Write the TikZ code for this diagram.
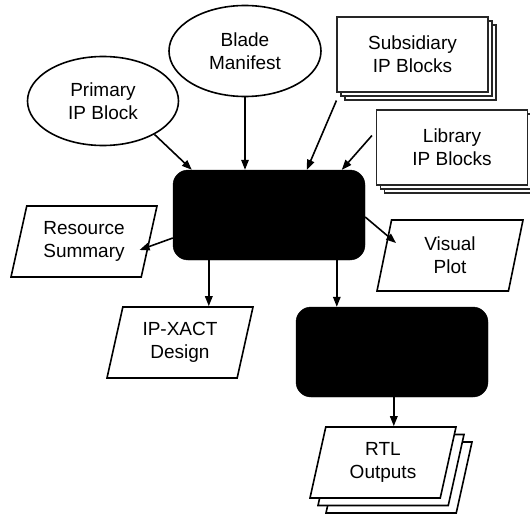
\documentclass[tikz,border=0pt]{standalone}
\usepackage{fontspec}
\setmainfont{Liberation Sans}
\usetikzlibrary{shapes.geometric,arrows.meta,shadows,calc}
\begin{document}
\begin{tikzpicture}[x=1pt,y=-1pt,
  every node/.style={font=\fontsize{19}{23}\selectfont, align=center, inner sep=0pt},
  source/.style={ellipse, draw, line width=1.6pt, fill=white},
  stackbox/.style={rectangle, draw=black!85, line width=1.1pt, fill=white,
    minimum width=151pt, minimum height=75pt,
    double copy shadow={shadow xshift=4pt, shadow yshift=-4pt}},
  engine/.style={rectangle, rounded corners=15pt, fill=black, draw=black,
    minimum width=192pt, minimum height=90pt},
  dataout/.style={trapezium, trapezium left angle=68.5, trapezium right angle=111.5,
    trapezium stretches body, draw, line width=1.6pt, fill=white,
    minimum width=146pt, minimum height=71pt},
  flow/.style={line width=1.6pt, -{Triangle[length=10pt,width=7.5pt]}}]
\useasboundingbox (0,0) rectangle (530,516);
\clip (0,0) rectangle (530,516);

% inputs
\node[source, minimum width=151pt, minimum height=89pt] (primary) at (103,101) {Primary\\IP Block};
\node[source, minimum width=152pt, minimum height=91pt] (blade) at (245,51) {Blade\\Manifest};
\node[stackbox] (sub) at (412.5,54.5) {Subsidiary\\IP Blocks};
\node[stackbox] (lib) at (452,147.5) {Library\\IP Blocks};

% processing stages
\node[engine] (gen) at (269,215) {};
\node[engine] (rtlgen) at (392,352) {};

% outputs
\node[dataout] (res) at (84,241.5) {Resource\\Summary};
\node[dataout] (vis) at (450,255.5) {Visual\\Plot};
\node[dataout] (ipx) at (180,342.5) {IP-XACT\\Design};
\node[dataout, double copy shadow={shadow xshift=8pt, shadow yshift=-7.5pt}] (rtl) at (383,462.5) {RTL\\Outputs};

% connectors
\draw[flow] (primary.-33) -- ($(gen.north west)+(19,0)$);
\draw[flow] (blade.south) -- (blade.south |- gen.north);
\draw[flow] ($(sub.south west)+(0,8)$) -- ($(gen.north west)+(134,0)$);
\draw[flow] ($(lib.west)+(-4,-12)$) -- ($(gen.north west)+(169,0)$);
\draw[flow] ($(gen.west)+(0,23)$) -- ($(res.center)+(55.6,8.5)$);
\draw[flow] ($(gen.east)+(0,2)$) -- ($(vis.center)+(-54,-12.5)$);
\coordinate (gipx) at ($(gen.south west)+(36,0)$);
\draw[flow] (gipx) -- (gipx |- ipx.north);
\coordinate (grtl) at ($(gen.south west)+(164,0)$);
\draw[flow] (grtl) -- (grtl |- rtlgen.north);
\coordinate (rout) at ($(rtlgen.south west)+(98,0)$);
\draw[flow] (rout) -- (rout |- rtl.north);
\end{tikzpicture}
\end{document}
